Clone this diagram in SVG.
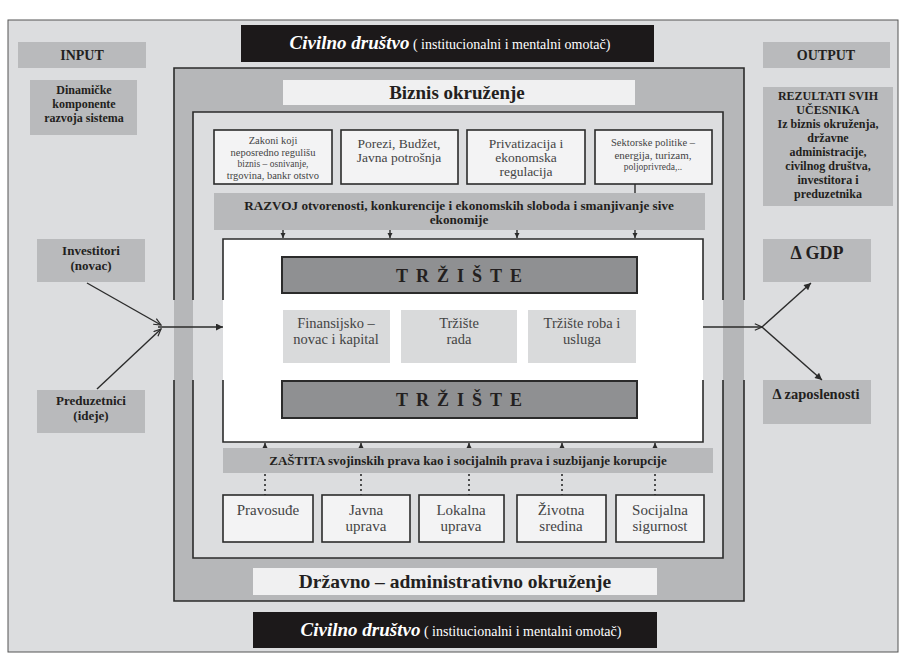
<svg xmlns="http://www.w3.org/2000/svg" width="906" height="658" viewBox="0 0 906 658" font-family="'Liberation Serif', 'Times New Roman', 'DejaVu Serif', serif">
<style>
  text { font-family: 'Liberation Serif', 'Times New Roman', 'DejaVu Serif', serif; text-anchor: middle; fill: #231f20; }
  .b { font-weight: bold; }
  .gbox { fill: #b9babc; }
  .wbox { fill: #f3f3f4; stroke: #2b2b2b; stroke-width: 1.6; }
  .bar { fill: #b8b9bb; }
  .mk { fill: #8f9092; stroke: #2b2b2b; stroke-width: 2; }
  .sub { fill: #d9dadb; }
  .blk { fill: #1c191a; }
  .frame { fill: none; stroke: #2b2b2b; stroke-width: 1.6; }
  .in { fill: #444; }
  .wt { fill: #ffffff; }
  .conn { stroke: #2b2b2b; stroke-width: 1.4; fill: none; }
  .dot { stroke: #2b2b2b; stroke-width: 1.6; stroke-dasharray: 2 3; fill: none; }
  .tr { font-weight: bold; font-size: 18px; letter-spacing: 8px; fill: #231f20; }
</style>
<defs>
  <marker id="arr" viewBox="0 0 10 10" refX="10" refY="5" markerWidth="9" markerHeight="7" markerUnits="userSpaceOnUse" orient="auto">
    <path d="M0,0 L10,5 L0,10 z" fill="#2b2b2b"/>
  </marker>
  <marker id="tri" viewBox="0 0 10 10" refX="10" refY="5" markerWidth="5" markerHeight="6" markerUnits="userSpaceOnUse" orient="auto">
    <path d="M0,0 L10,5 L0,10 z" fill="#2b2b2b"/>
  </marker>
  <marker id="open" viewBox="0 0 10 10" refX="9" refY="5" markerWidth="9" markerHeight="8" markerUnits="userSpaceOnUse" orient="auto">
    <path d="M0,1 L9,5 L0,9" fill="none" stroke="#2b2b2b" stroke-width="1.5"/>
  </marker>
</defs>

<!-- background -->
<rect x="8" y="20" width="890" height="632" fill="#dcdddf" stroke="#555" stroke-width="1"/>

<!-- state-administrative frame -->
<g id="drzavno-okruzenje">
  <rect x="174" y="68" width="570" height="533" fill="#b6b7b9"/>
  <path class="frame" d="M174,300 V68 H744 V300 M744,380 V601 H174 V380"/>
  <rect x="253" y="568" width="404" height="27" fill="#f0f0f1"/>
  <text x="455" y="588" class="b" font-size="19.5">Državno – administrativno okruženje</text>
</g>

<!-- business environment -->
<g id="biznis-okruzenje">
  <rect x="193" y="112" width="530" height="446" fill="#dcdddf"/>
  <path class="frame" d="M193,300 V112 H723 V300 M723,380 V558 H193 V380"/>
  <rect x="283" y="80" width="352" height="25" fill="#f0f0f1"/>
  <text x="457" y="99" class="b" font-size="19">Biznis okruženje</text>
</g>

<!-- top civil society banner -->
<g id="civilno-top">
  <rect class="blk" x="241" y="25" width="413" height="37"/>
  <text x="450" y="49" class="wt"><tspan font-weight="bold" font-style="italic" font-size="19">Civilno društvo</tspan><tspan font-size="14"> ( institucionalni i mentalni omotač)</tspan></text>
</g>

<!-- bottom civil society banner -->
<g id="civilno-bottom">
  <rect class="blk" x="253" y="612" width="404" height="36"/>
  <text x="461" y="636" class="wt"><tspan font-weight="bold" font-style="italic" font-size="19">Civilno društvo</tspan><tspan font-size="14"> ( institucionalni i mentalni omotač)</tspan></text>
</g>

<!-- INPUT side -->
<g id="input">
  <rect class="gbox" x="18" y="42" width="128" height="26"/>
  <text x="82" y="60" class="b" font-size="14">INPUT</text>
</g>
<g id="dinamicke">
  <rect class="gbox" x="30" y="80" width="107" height="55"/>
  <text x="84" y="94" class="b" font-size="12">Dinamičke</text>
  <text x="84" y="108" class="b" font-size="12">komponente</text>
  <text x="84" y="122" class="b" font-size="12">razvoja sistema</text>
</g>
<g id="investitori">
  <rect class="gbox" x="37" y="239" width="108" height="43"/>
  <text x="91" y="255" class="b" font-size="13">Investitori</text>
  <text x="91" y="270" class="b" font-size="13">(novac)</text>
</g>
<g id="preduzetnici">
  <rect class="gbox" x="37" y="390" width="108" height="43"/>
  <text x="91" y="405" class="b" font-size="13">Preduzetnici</text>
  <text x="91" y="420" class="b" font-size="13">(ideje)</text>
</g>

<!-- OUTPUT side -->
<g id="output">
  <rect class="gbox" x="763" y="42" width="127" height="26"/>
  <text x="826" y="60" class="b" font-size="14">OUTPUT</text>
</g>
<g id="rezultati">
  <rect class="gbox" x="763" y="87" width="130" height="119"/>
  <text x="828" y="100" class="b" font-size="12">REZULTATI SVIH</text>
  <text x="828" y="114" class="b" font-size="12">UČESNIKA</text>
  <text x="828" y="128" class="b" font-size="12">Iz biznis okruženja,</text>
  <text x="828" y="142" class="b" font-size="12">državne</text>
  <text x="828" y="156" class="b" font-size="12">administracije,</text>
  <text x="828" y="170" class="b" font-size="12">civilnog društva,</text>
  <text x="828" y="184" class="b" font-size="12">investitora i</text>
  <text x="828" y="198" class="b" font-size="12">preduzetnika</text>
</g>
<g id="gdp">
  <rect class="gbox" x="763" y="239" width="108" height="43"/>
  <text x="817" y="259" class="b" font-size="18">Δ GDP</text>
</g>
<g id="zaposlenost">
  <rect class="gbox" x="763" y="380" width="108" height="44"/>
  <text x="816" y="399" class="b" font-size="14.5">Δ zaposlenosti</text>
</g>

<!-- top policy boxes -->
<g id="zakoni">
  <rect class="wbox" x="214" y="130" width="118" height="54"/>
  <text x="273" y="144" class="in" font-size="10.5">Zakoni koji</text>
  <text x="273" y="156" class="in" font-size="10.5">neposredno regulišu</text>
  <text x="273" y="167" class="in" font-size="9.5">biznis – osnivanje,</text>
  <text x="273" y="179" class="in" font-size="10.5">trgovina, bankr otstvo</text>
</g>
<g id="porezi">
  <rect class="wbox" x="341" y="130" width="117" height="54"/>
  <text x="399" y="148" class="in" font-size="13.5">Porezi, Budžet,</text>
  <text x="399" y="162" class="in" font-size="13.5">Javna potrošnja</text>
</g>
<g id="privatizacija">
  <rect class="wbox" x="467" y="130" width="118" height="54"/>
  <text x="526" y="148" class="in" font-size="13.5">Privatizacija i</text>
  <text x="526" y="162" class="in" font-size="13.5">ekonomska</text>
  <text x="526" y="176" class="in" font-size="13.5">regulacija</text>
</g>
<g id="sektorske">
  <rect class="wbox" x="595" y="130" width="117" height="54"/>
  <text x="653" y="146" class="in" font-size="10.5">Sektorske politike –</text>
  <text x="653" y="159" class="in" font-size="11">energija, turizam,</text>
  <text x="653" y="170" class="in" font-size="9.5">poljoprivreda,..</text>
</g>

<g id="razvoj">
  <rect class="bar" x="214" y="193" width="491" height="37"/>
  <text x="459" y="210" class="b" font-size="13.2">RAZVOJ otvorenosti, konkurencije i ekonomskih sloboda i smanjivanje sive</text>
  <text x="459" y="224" class="b" font-size="13.2">ekonomije</text>
</g>

<!-- market -->
<g id="trziste-okvir">
  <rect x="223" y="239" width="480" height="203" fill="#ffffff"/>
  <path class="frame" d="M223,300 V239 H703 V300 M703,380 V442 H223 V380"/>
</g>
<g id="trziste-gore">
  <rect class="mk" x="282" y="257" width="355" height="36"/>
  <text x="463" y="282" class="tr">TRŽIŠTE</text>
</g>
<g id="finansijsko">
  <rect class="sub" x="283" y="310" width="107" height="53"/>
  <text x="336" y="328" class="in" font-size="14.5">Finansijsko –</text>
  <text x="336" y="344" class="in" font-size="14.5">novac i kapital</text>
</g>
<g id="trziste-rada">
  <rect class="sub" x="401" y="310" width="116" height="53"/>
  <text x="459" y="328" class="in" font-size="14.5">Tržište</text>
  <text x="459" y="344" class="in" font-size="14.5">rada</text>
</g>
<g id="trziste-roba">
  <rect class="sub" x="528" y="310" width="108" height="53"/>
  <text x="582" y="328" class="in" font-size="14.5">Tržište roba i</text>
  <text x="582" y="344" class="in" font-size="14.5">usluga</text>
</g>
<g id="trziste-dole">
  <rect class="mk" x="282" y="381" width="355" height="37"/>
  <text x="463" y="406" class="tr">TRŽIŠTE</text>
</g>

<g id="zastita">
  <rect class="bar" x="223" y="448" width="490" height="25"/>
  <text x="468" y="465" class="b" font-size="13">ZAŠTITA svojinskih  prava kao i socijalnih prava i suzbijanje korupcije</text>
</g>

<!-- institution boxes -->
<g id="pravosudje">
  <rect class="wbox" x="223" y="495" width="90" height="47"/>
  <text x="268" y="515" class="in" font-size="15">Pravosuđe</text>
</g>
<g id="javna-uprava">
  <rect class="wbox" x="322" y="495" width="88" height="47"/>
  <text x="366" y="515" class="in" font-size="15">Javna</text>
  <text x="366" y="531" class="in" font-size="15">uprava</text>
</g>
<g id="lokalna-uprava">
  <rect class="wbox" x="419" y="495" width="85" height="47"/>
  <text x="461" y="515" class="in" font-size="15">Lokalna</text>
  <text x="461" y="531" class="in" font-size="15">uprava</text>
</g>
<g id="zivotna-sredina">
  <rect class="wbox" x="517" y="495" width="89" height="47"/>
  <text x="561" y="515" class="in" font-size="15">Životna</text>
  <text x="561" y="531" class="in" font-size="15">sredina</text>
</g>
<g id="socijalna-sigurnost">
  <rect class="wbox" x="616" y="495" width="88" height="47"/>
  <text x="660" y="515" class="in" font-size="15">Socijalna</text>
  <text x="660" y="531" class="in" font-size="15">sigurnost</text>
</g>

<!-- connectors -->
<g id="connectors">
  <line class="conn" x1="635" y1="184" x2="635" y2="193"/>
  <line class="conn" x1="283" y1="230" x2="283" y2="238" marker-end="url(#tri)"/>
  <line class="conn" x1="390" y1="230" x2="390" y2="238" marker-end="url(#tri)"/>
  <line class="conn" x1="517" y1="230" x2="517" y2="238" marker-end="url(#tri)"/>
  <line class="conn" x1="635" y1="230" x2="635" y2="238" marker-end="url(#tri)"/>

  <line class="conn" x1="265" y1="448" x2="265" y2="443" marker-end="url(#tri)"/>
  <line class="conn" x1="361" y1="448" x2="361" y2="443" marker-end="url(#tri)"/>
  <line class="conn" x1="469" y1="448" x2="469" y2="443" marker-end="url(#tri)"/>
  <line class="conn" x1="562" y1="448" x2="562" y2="443" marker-end="url(#tri)"/>
  <line class="conn" x1="655" y1="448" x2="655" y2="443" marker-end="url(#tri)"/>

  <line class="dot" x1="265" y1="474" x2="265" y2="495"/>
  <line class="dot" x1="361" y1="474" x2="361" y2="495"/>
  <line class="dot" x1="469" y1="474" x2="469" y2="495"/>
  <line class="dot" x1="562" y1="474" x2="562" y2="495"/>
  <line class="dot" x1="655" y1="474" x2="655" y2="495"/>

  <line class="conn" x1="87" y1="283" x2="161" y2="325" marker-end="url(#open)"/>
  <line class="conn" x1="97" y1="389" x2="161" y2="329" marker-end="url(#open)"/>
  <line class="conn" x1="158" y1="327" x2="223" y2="327" marker-end="url(#arr)"/>

  <line class="conn" x1="703" y1="327" x2="762" y2="327" marker-end="url(#open)"/>
  <line class="conn" x1="762" y1="327" x2="811" y2="283" marker-end="url(#arr)"/>
  <line class="conn" x1="762" y1="327" x2="822" y2="380" marker-end="url(#arr)"/>
</g>
</svg>
